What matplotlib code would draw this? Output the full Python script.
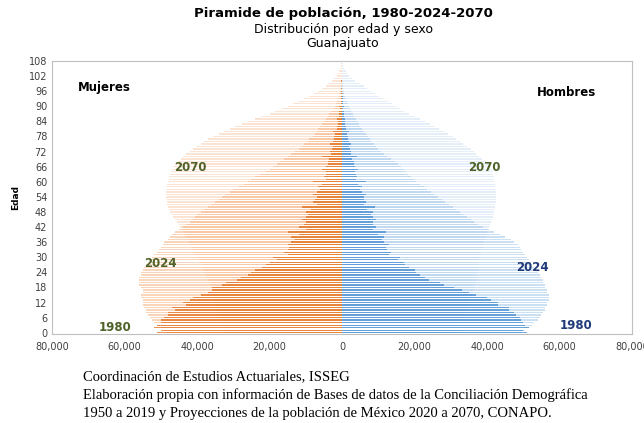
import matplotlib

matplotlib.use("Agg")
import matplotlib.pyplot as plt
from matplotlib.ticker import FuncFormatter

# Single-year ages 0..108, thousands of persons
ages = list(range(0, 109))

mujeres_1980 = [
    51, 50, 52, 51, 50, 50, 49, 48, 48, 46, 47, 43, 44, 42, 41, 39, 37, 36, 36, 33,
    32, 29, 28, 26, 25, 24, 22, 21, 20, 18, 19, 15, 16, 15, 14.5, 15, 14, 13, 14, 12,
    15, 10, 12, 10.5, 10, 11, 10, 9.5, 10, 8.5, 11, 7, 8, 7.5, 7, 8, 7, 6, 6.5, 5.5,
    8, 4.5, 5, 4.5, 4.5, 5.5, 4.5, 4, 4, 3.5, 5.5, 3, 3.2, 2.8, 2.6, 3.2, 2.4, 2.1, 2.3, 1.8,
    2.6, 1.4, 1.4, 1.2, 1.1, 1.3, 0.9, 0.8, 0.7, 0.6, 0.8, 0.4, 0.35, 0.3, 0.25, 0.3, 0.2, 0.15, 0.12, 0.1,
    0.15, 0.06, 0.05, 0.04, 0.03, 0.02, 0.01, 0.01, 0,
]
mujeres_2024 = [
    48, 49, 50, 51, 52, 52.5, 53, 53.5, 54, 54, 54.5, 55, 55, 55, 55.5, 55.5, 55, 55, 55.5, 56,
    56, 56, 56, 55.5, 55.5, 55, 54.5, 54, 53.5, 53, 52.5, 52, 51, 50.5, 50, 49.5, 49, 48, 47.5, 47,
    46, 45, 44, 43, 42, 41, 40.5, 40, 39, 38, 37, 36, 35, 34, 33, 32, 31, 30, 28.5, 27,
    26, 25, 24, 22.5, 21, 20, 19, 18, 17, 16, 15, 14, 13, 12, 11, 10.5, 9.5, 9, 8, 7.5,
    7, 6.5, 6, 5.5, 5, 4.5, 4, 3.5, 3, 2.5, 2, 1.7, 1.4, 1.1, 0.9, 0.7, 0.5, 0.4, 0.3, 0.2,
    0.15, 0.1, 0.07, 0.05, 0.03, 0.02, 0.01, 0.01, 0,
]
mujeres_2070 = [
    32.5, 32.8, 33, 33.2, 33.4, 33.6, 33.8, 34, 34.2, 34.4, 34.6, 34.8, 35, 35.2, 35.4, 35.6, 35.8, 36, 36.2, 36.5,
    36.8, 37, 37.3, 37.6, 38, 38.3, 38.6, 39, 39.3, 39.6, 40, 40.3, 40.6, 41, 41.4, 41.8, 42.2, 42.6, 43, 43.4,
    43.8, 44.2, 44.6, 45, 45.5, 46, 46.5, 47, 47.5, 47.8, 48, 48.2, 48.3, 48.4, 48.5, 48.5, 48.5, 48.4, 48.3, 48.2,
    48, 47.8, 47.6, 47.4, 47.2, 47, 46.5, 46, 45.3, 44.5, 43.8, 43, 42, 41, 40, 39, 38, 37, 35.5, 34,
    32.5, 31, 29.5, 27.5, 26, 24, 22, 20, 18.5, 16.5, 15, 13.5, 12, 10.5, 9, 7.8, 6.5, 5.5, 4.5, 3.6,
    2.8, 2.1, 1.5, 1.0, 0.7, 0.4, 0.25, 0.15, 0.1,
]

hombres_1980 = [
    51, 50, 51.5, 50.5, 50, 49.5, 49, 48, 47.5, 46, 46, 43, 43, 41, 40, 37, 35, 33, 31, 28,
    27, 24, 23, 21.5, 20.5, 20, 18.5, 17.5, 17, 15.5, 16, 13, 13.5, 12.5, 12, 13, 11.5, 11, 11.5, 10,
    12, 8.5, 9.5, 8.5, 8.5, 9.5, 8.5, 8, 8.5, 7, 9, 6, 6.5, 6, 6, 6.5, 5.5, 5, 5.5, 4.5,
    6.5, 3.8, 4.2, 3.8, 3.6, 4.5, 3.6, 3.2, 3.2, 2.8, 4.2, 2.4, 2.6, 2.2, 2, 2.5, 1.8, 1.6, 1.7, 1.3,
    1.9, 1, 1, 0.9, 0.8, 0.9, 0.6, 0.5, 0.45, 0.4, 0.5, 0.25, 0.2, 0.18, 0.15, 0.18, 0.1, 0.08, 0.06, 0.05,
    0.06, 0.03, 0.02, 0.02, 0.01, 0.01, 0, 0, 0,
]
hombres_2024 = [
    49.5, 50.5, 51.5, 52.5, 53, 54, 54.5, 55, 55.5, 56, 56, 56.5, 56.5, 57, 57, 57, 56.5, 56.5, 56, 56,
    55.5, 55.5, 55, 54.5, 54, 53.5, 53, 52.5, 52, 51.5, 51, 50.5, 50, 49.5, 49, 48.5, 47.5, 46.5, 45, 43.5,
    42, 40.5, 39, 37.5, 36.5, 35.5, 34.5, 33.5, 32.5, 31.5, 30.5, 29.5, 28.5, 27.5, 26.5, 25.5, 24.5, 23.5, 22.5, 21.5,
    20.5, 19.8, 19, 18.3, 17.6, 17, 16.3, 15.5, 14.5, 13.5, 12.5, 11.5, 10.7, 10, 9.3, 8.7, 8.1, 7.6, 7.1, 6.6,
    6.1, 5.6, 5.1, 4.7, 4.3, 3.8, 3.4, 3, 2.6, 2.3, 2, 1.6, 1.3, 1.0, 0.8, 0.6, 0.45, 0.35, 0.25, 0.18,
    0.12, 0.08, 0.05, 0.03, 0.02, 0.01, 0.01, 0, 0,
]
hombres_2070 = [
    31.5, 31.8, 32, 32.3, 32.6, 32.9, 33.2, 33.5, 33.8, 34.1, 34.4, 34.7, 35, 35.3, 35.6, 35.9, 36.2, 36.4, 36.6, 36.8,
    37, 37.1, 37.2, 37.3, 37.4, 37.5, 37.6, 37.7, 37.8, 37.9, 38, 38.2, 38.4, 38.6, 38.8, 39, 39.2, 39.4, 39.6, 39.8,
    40, 40.3, 40.6, 40.9, 41.2, 41.5, 41.7, 41.9, 42, 42.1, 42.2, 42.3, 42.4, 42.5, 42.5, 42.5, 42.4, 42.3, 42.2, 42.1,
    42, 41.9, 41.8, 41.7, 41.6, 41.5, 41.2, 40.5, 39.6, 38.7, 37.8, 37, 36.5, 35.5, 34.5, 33.5, 32.5, 31.5, 30.5, 29.3,
    28, 26.8, 25.5, 24.3, 23, 21.5, 20, 18.5, 17, 16, 15, 13.8, 12.6, 11.4, 10.2, 9, 8, 7, 6, 5,
    3.5, 2.7, 2, 1.4, 1, 0.6, 0.4, 0.2, 0.1,
]

series_years = ["2070", "2024", "1980"]
x_ticks = [-80000, -60000, -40000, -20000, 0, 20000, 40000, 60000, 80000]
y_ticks = list(range(0, 109, 6))

title = "Piramide de población, 1980-2024-2070"
subtitle = "Distribución por edad y sexo\nGuanajuato"
source_lines = [
    "Coordinación de Estudios Actuariales, ISSEG",
    "Elaboración propia con información de Bases de datos de la Conciliación Demográfica",
    "1950 a 2019 y Proyecciones de la población de México 2020 a 2070, CONAPO.",
]

women = {"2070": mujeres_2070, "2024": mujeres_2024, "1980": mujeres_1980}
men = {"2070": hombres_2070, "2024": hombres_2024, "1980": hombres_1980}
orange = {"2070": ("#F9D3B8", 0.6), "2024": ("#F5B386", 0.55), "1980": ("#E2680F", 0.7)}
blue = {"2070": ("#D2E4F5", 0.6), "2024": ("#A3C8EC", 0.55), "1980": ("#3D87D0", 0.7)}

fig = plt.figure(figsize=(6.44, 4.23), dpi=100)
fig.patch.set_facecolor("white")
ax = fig.add_axes([52 / 644, 89 / 423, 580 / 644, 273 / 423])

for yr in series_years:
    col, a = orange[yr]
    ax.barh(ages, [-v * 1000 for v in women[yr]], height=0.55, color=col, alpha=a,
            edgecolor="none", zorder=2)
    col, a = blue[yr]
    ax.barh(ages, [v * 1000 for v in men[yr]], height=0.55, color=col, alpha=a,
            edgecolor="none", zorder=2)

ax.set_xlim(-80000, 80000)
ax.set_ylim(-0.5, 108)
ax.set_xticks(x_ticks)
ax.xaxis.set_major_formatter(FuncFormatter(lambda v, _p: f"{abs(v):,.0f}"))
ax.set_yticks(y_ticks)
ax.tick_params(axis="both", labelsize=7, length=0, colors="#404040")
ax.tick_params(axis="x", pad=6)
for s in ax.spines.values():
    s.set_color("#BFBFBF")
    s.set_linewidth(0.8)
ax.set_ylabel("Edad", fontsize=6.5, fontweight="bold", labelpad=6)

ax.text(-72800, 97.3, "Mujeres", fontsize=8.5, fontweight="bold", va="center", ha="left")
ax.text(53800, 95.3, "Hombres", fontsize=8.5, fontweight="bold", va="center", ha="left")

green = "#4F6228"
navy = "#1F3A78"
ax.text(-41900, 65.7, "2070", color=green, fontsize=8.5, fontweight="bold", ha="center", va="center")
ax.text(-50200, 27.7, "2024", color=green, fontsize=8.5, fontweight="bold", ha="center", va="center")
ax.text(-62600, 2.0, "1980", color=green, fontsize=8.5, fontweight="bold", ha="center", va="center")
ax.text(39200, 65.7, "2070", color=green, fontsize=8.5, fontweight="bold", ha="center", va="center")
ax.text(52400, 26.1, "2024", color=navy, fontsize=8.5, fontweight="bold", ha="center", va="center")
ax.text(64500, 2.8, "1980", color=navy, fontsize=8.5, fontweight="bold", ha="center", va="center")

fig.text(343 / 644, 1 - 13 / 423, title, fontsize=9.5, fontweight="bold", ha="center", va="center")
fig.text(343 / 644, 1 - 36 / 423, subtitle, fontsize=9, ha="center", va="center", linespacing=1.1)

for i, line in enumerate(source_lines):
    fig.text(83 / 644, 1 - (377 + 18 * i) / 423, line, fontsize=10.5,
             family="Liberation Serif", ha="left", va="center")

fig.savefig("out.png", dpi=100, facecolor=fig.get_facecolor())
